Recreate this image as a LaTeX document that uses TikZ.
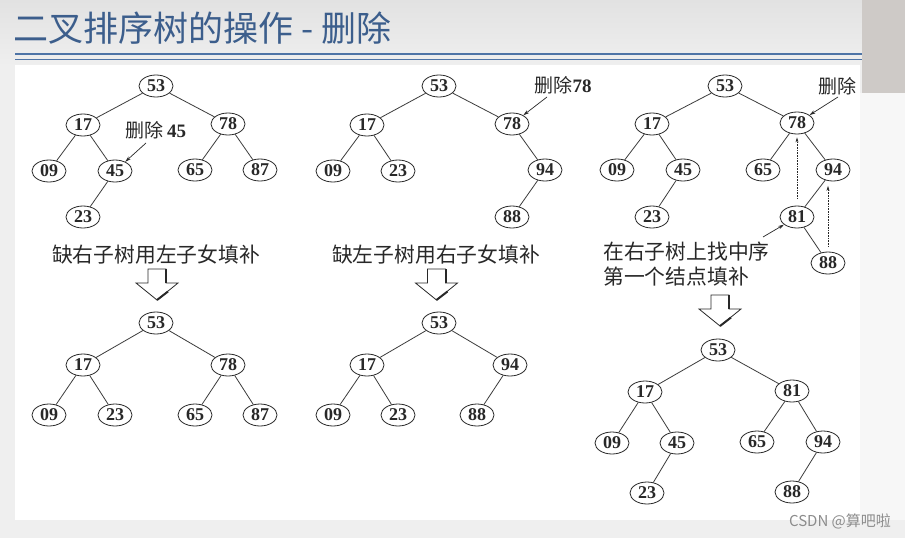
\documentclass[tikz,border=0pt]{standalone}
\usepackage{fontspec}
\setmainfont{Liberation Serif}
\newfontfamily\cjk{Noto Sans CJK SC}
\usetikzlibrary{shapes.geometric,arrows.meta,calc}
\definecolor{titleblue}{RGB}{60,94,140}
\definecolor{lineblue}{RGB}{78,116,166}
\definecolor{pagegray}{RGB}{239,239,239}
\definecolor{topgray}{RGB}{226,226,226}
\definecolor{ovgray}{RGB}{206,202,199}
\definecolor{ink}{RGB}{40,40,40}
\begin{document}
\begin{tikzpicture}[x=1pt,y=-1pt,
  tn/.style={ellipse,draw=ink,line width=0.8pt,minimum width=34pt,minimum height=22pt,inner sep=0pt,fill=white,text=ink,font=\fontsize{18}{18}\selectfont\bfseries},
  ed/.style={draw=ink!90,line width=0.8pt},
  lbl/.style={font=\fontsize{20.8}{26}\selectfont\cjk,text=ink,inner sep=0pt},
  dlbl/.style={font=\fontsize{19}{22}\selectfont,text=ink,inner sep=0pt},
  ptr/.style={draw=ink,line width=0.7pt,-{Stealth[length=6pt,width=3.5pt]}},
  dotptr/.style={draw=ink,line width=0.6pt,densely dotted,-{Stealth[length=5pt,width=3pt]}},
  hollow/.pic={
    \draw[ink,line width=0.8pt,fill=white] (-9,0) -- (9,0) -- (9,14) -- (21,14) -- (0,31) -- (-21,14) -- (-9,14) -- cycle;
    \draw[ink,line width=2pt] (9,0) -- (9,14);
    \draw[ink,line width=2pt] (11,22.5) -- (0,31);
  }]
\useasboundingbox (0,0) rectangle (905,538);
% background
\fill[pagegray] (0,0) rectangle (905,538);
\shade[top color=topgray,bottom color=pagegray] (0,0) rectangle (905,66);
\fill[white] (15,65) rectangle (860,520);
\fill[black!3] (860,93) rectangle (905,520);
\fill[ovgray] (862,0) rectangle (905,93);
% title
\node[anchor=west,font=\fontsize{35}{36}\selectfont\cjk,text=titleblue,inner sep=0pt] (title) at (13,28) {二叉排序树的操作 - 删除};
\draw[lineblue,line width=2pt] (15,54) -- (862,54);
\draw[lineblue,line width=0.9pt] (15,59) -- (862,59);

% ---------- tree A (top left)
\node[tn] (a53) at (156,86) {53};
\node[tn] (a17) at (83,125) {17};
\node[tn] (a78) at (228,124) {78};
\node[tn] (a09) at (49,171) {09};
\node[tn] (a45) at (115,171) {45};
\node[tn] (a65) at (195,170) {65};
\node[tn] (a87) at (260,170) {87};
\node[tn] (a23) at (83,217) {23};
\draw[ed] (a53) -- (a17); \draw[ed] (a53) -- (a78);
\draw[ed] (a17) -- (a09); \draw[ed] (a17) -- (a45);
\draw[ed] (a45) -- (a23);
\draw[ed] (a78) -- (a65); \draw[ed] (a78) -- (a87);
\node[dlbl] (la) at (156,130) {{\cjk\fontsize{19}{22}\selectfont 删除}\,\textbf{45}};
\coordinate (ta) at (146,143);
\draw[ptr] (ta) -- (a45);

% ---------- tree B (top middle)
\node[tn] (b53) at (439,86) {53};
\node[tn] (b17) at (367,125) {17};
\node[tn] (b78) at (512,124) {78};
\node[tn] (b09) at (333,171) {09};
\node[tn] (b23) at (398,171) {23};
\node[tn] (b94) at (545,170) {94};
\node[tn] (b88) at (512,217) {88};
\draw[ed] (b53) -- (b17); \draw[ed] (b53) -- (b78);
\draw[ed] (b17) -- (b09); \draw[ed] (b17) -- (b23);
\draw[ed] (b78) -- (b94); \draw[ed] (b94) -- (b88);
\node[dlbl] (lb) at (563,85) {{\cjk\fontsize{19}{22}\selectfont 删除}\textbf{78}};
\coordinate (tb) at (547,97);
\draw[ptr] (tb) -- (b78);

% ---------- tree C (top right)
\node[tn] (c53) at (725,86) {53};
\node[tn] (c17) at (652,124) {17};
\node[tn] (c78) at (797,123) {78};
\node[tn] (c09) at (617,170) {09};
\node[tn] (c45) at (683,170) {45};
\node[tn] (c65) at (763,170) {65};
\node[tn] (c94) at (833,170) {94};
\node[tn] (c23) at (652,217) {23};
\node[tn] (c81) at (797,217) {81};
\node[tn] (c88) at (828,263) {88};
\draw[ed] (c53) -- (c17); \draw[ed] (c53) -- (c78);
\draw[ed] (c17) -- (c09); \draw[ed] (c17) -- (c45);
\draw[ed] (c45) -- (c23);
\draw[ed] (c78) -- (c65); \draw[ed] (c78) -- (c94);
\draw[ed] (c94) -- (c81); \draw[ed] (c81) -- (c88);
\node[dlbl,font=\fontsize{19}{22}\selectfont\cjk] (lc) at (837,86) {删除};
\coordinate (tc) at (838,97);
\draw[ptr] (tc) -- (c78);
\draw[dotptr,shorten <=7pt,shorten >=3pt] (c81) -- (c78);
\draw[dotptr,shorten <=5pt,shorten >=4.5pt] (c88.north) -- (c88.north |- c94.south);
\node[lbl,anchor=west] (ld1) at (603,252) {在右子树上找中序};
\node[lbl,anchor=west] (ld2) at (603,277) {第一个结点填补};
\coordinate (td) at (763,237);
\draw[ptr] (td) -- (c81);

% ---------- captions and big arrows
\node[lbl] (capa) at (156,255) {缺右子树用左子女填补};
\node[lbl] (capb) at (436,255) {缺左子树用右子女填补};
\pic at (157,269) {hollow};
\pic at (436.5,269) {hollow};
\pic at (720,295) {hollow};

% ---------- tree D (bottom left)
\node[tn] (d53) at (156,323) {53};
\node[tn] (d17) at (83,365) {17};
\node[tn] (d78) at (228,365) {78};
\node[tn] (d09) at (49,415) {09};
\node[tn] (d23) at (115,415) {23};
\node[tn] (d65) at (195,415) {65};
\node[tn] (d87) at (260,415) {87};
\draw[ed] (d53) -- (d17); \draw[ed] (d53) -- (d78);
\draw[ed] (d17) -- (d09); \draw[ed] (d17) -- (d23);
\draw[ed] (d78) -- (d65); \draw[ed] (d78) -- (d87);

% ---------- tree E (bottom middle)
\node[tn] (e53) at (439,323) {53};
\node[tn] (e17) at (367,365) {17};
\node[tn] (e94) at (510,365) {94};
\node[tn] (e09) at (333,415) {09};
\node[tn] (e23) at (398,415) {23};
\node[tn] (e88) at (477,415) {88};
\draw[ed] (e53) -- (e17); \draw[ed] (e53) -- (e94);
\draw[ed] (e17) -- (e09); \draw[ed] (e17) -- (e23);
\draw[ed] (e94) -- (e88);

% ---------- tree F (bottom right)
\node[tn] (f53) at (718,350) {53};
\node[tn] (f17) at (645,392) {17};
\node[tn] (f81) at (792,391) {81};
\node[tn] (f09) at (612,443) {09};
\node[tn] (f45) at (677,443) {45};
\node[tn] (f65) at (757,442) {65};
\node[tn] (f94) at (823,442) {94};
\node[tn] (f23) at (647,493) {23};
\node[tn] (f88) at (792,492) {88};
\draw[ed] (f53) -- (f17); \draw[ed] (f53) -- (f81);
\draw[ed] (f17) -- (f09); \draw[ed] (f17) -- (f45);
\draw[ed] (f45) -- (f23);
\draw[ed] (f81) -- (f65); \draw[ed] (f81) -- (f94);
\draw[ed] (f94) -- (f88);

% watermark
\node[font=\fontsize{15}{16}\selectfont\cjk,text=black!45,inner sep=0pt] (wm) at (840,521) {CSDN @算吧啦};
\end{tikzpicture}
\end{document}
